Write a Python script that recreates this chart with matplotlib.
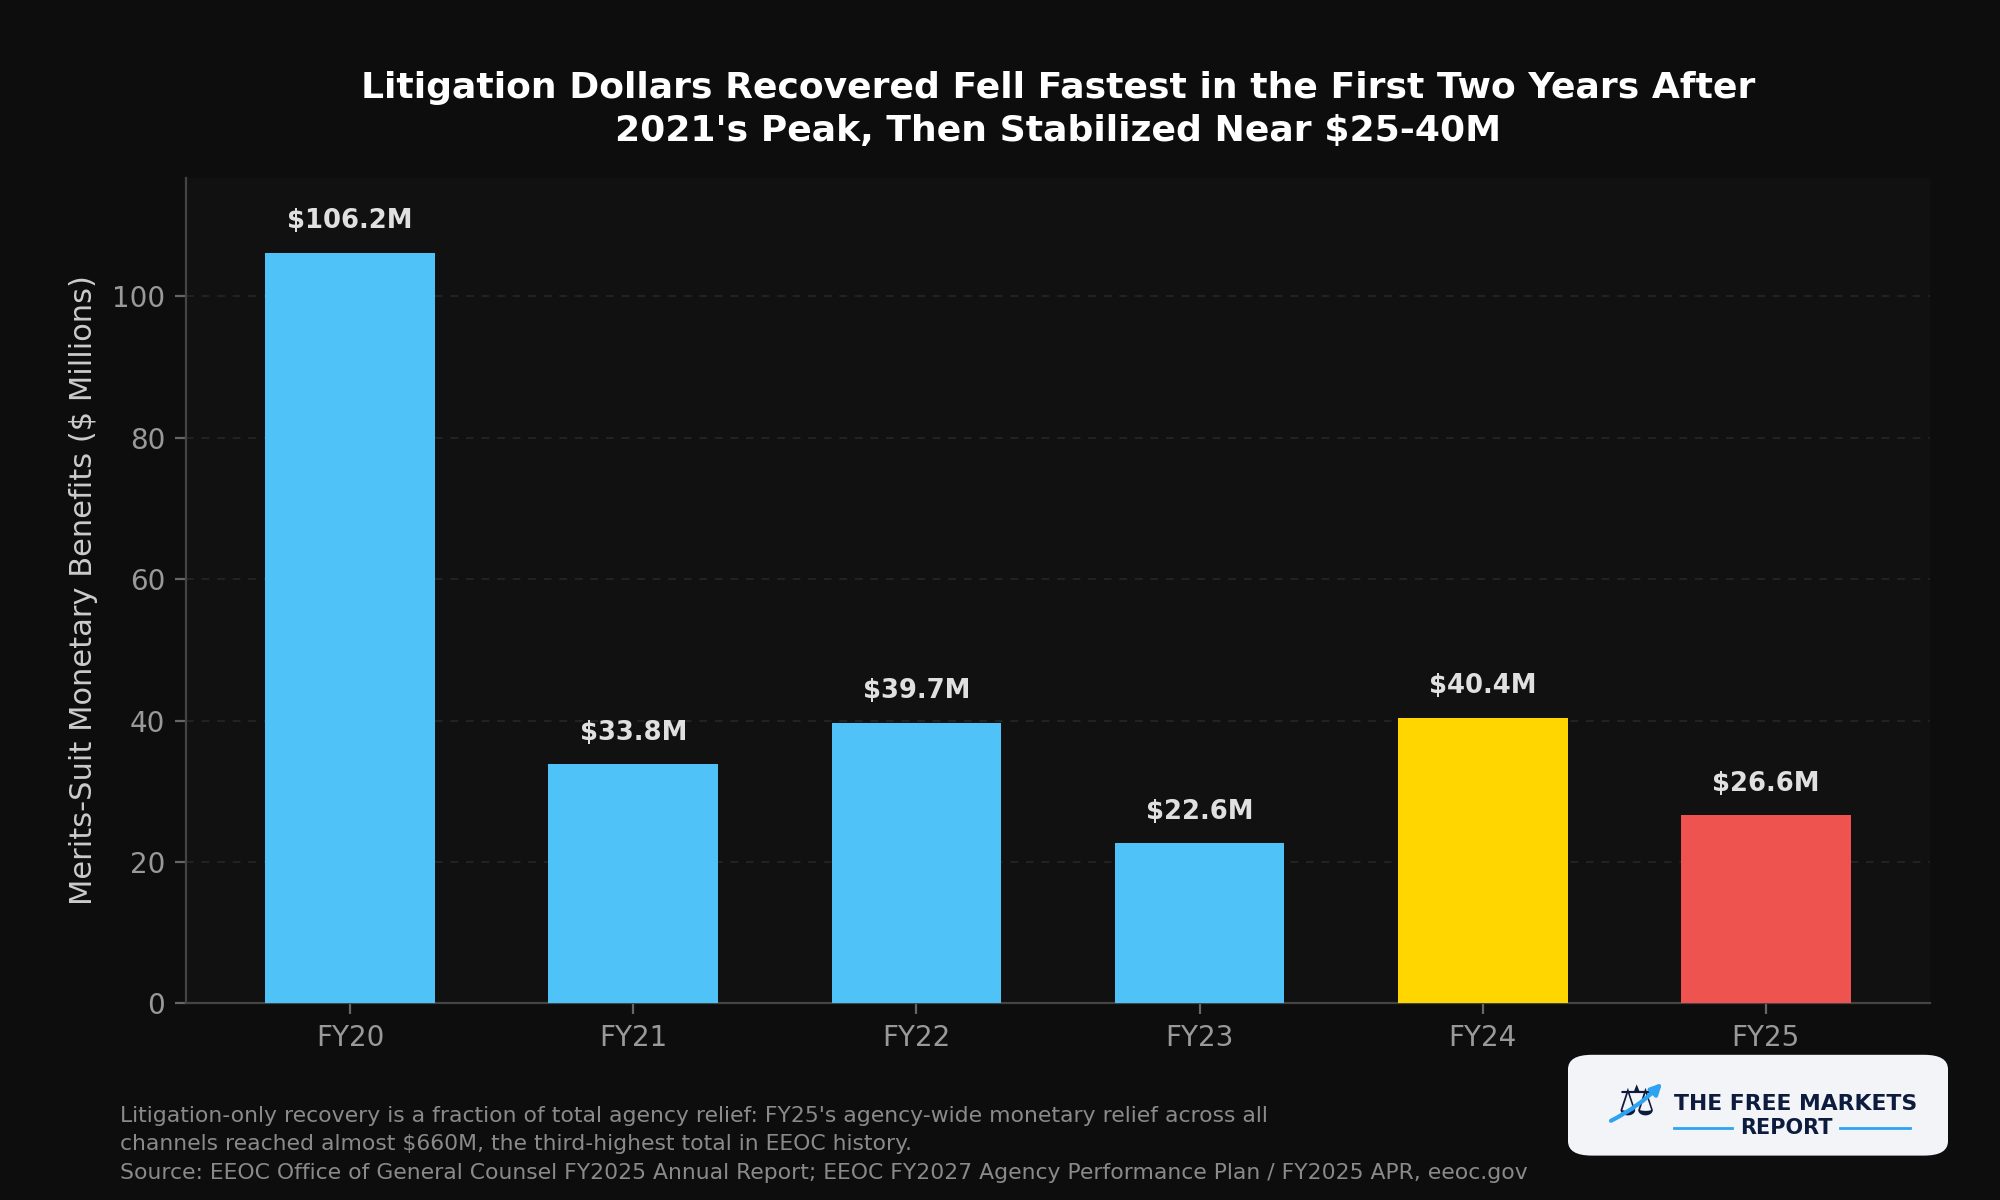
import matplotlib.pyplot as plt
from matplotlib.patches import FancyBboxPatch, FancyArrowPatch

years = ["FY20", "FY21", "FY22", "FY23", "FY24", "FY25"]
recovered = [106.2, 33.8, 39.7, 22.6, 40.4, 26.6]
bar_colors = ["#4FC3F7", "#4FC3F7", "#4FC3F7", "#4FC3F7", "#FFD600", "#EF5350"]

title = ("Litigation Dollars Recovered Fell Fastest in the First Two Years After\n"
         "2021's Peak, Then Stabilized Near $25-40M")
note = ("Litigation-only recovery is a fraction of total agency relief: FY25's agency-wide monetary relief across all\n"
        "channels reached almost $660M, the third-highest total in EEOC history.\n"
        "Source: EEOC Office of General Counsel FY2025 Annual Report; EEOC FY2027 Agency Performance Plan / FY2025 APR, eeoc.gov")

fig = plt.figure(figsize=(10, 6), dpi=200, facecolor="#0d0d0d")
ax = fig.add_axes([0.093, 0.164, 0.872, 0.688])
ax.set_facecolor("#111111")

x = list(range(len(years)))
bars = ax.bar(x, recovered, width=0.6, color=bar_colors, zorder=3)
ax.set_ylim(0, max(recovered) * 1.1)

# value labels over each bar
for b, v in zip(bars, recovered):
    ax.text(b.get_x() + b.get_width() / 2, v + 2.6, f"${v:.1f}M",
            ha="center", va="bottom", fontsize=9.3, fontweight="bold", color="#e0e0e0")

ax.set_xticks(x)
ax.set_xticklabels(years)
ax.set_yticks([0, 20, 40, 60, 80, 100])
ax.tick_params(labelsize=10, length=4)
ax.tick_params(axis="x", colors="#666666", labelcolor="#999999")
ax.tick_params(axis="y", colors="#666666", labelcolor="#999999")
ax.set_ylabel("Merits-Suit Monetary Benefits ($ Millions)", fontsize=11, color="#cccccc", labelpad=5)
ax.grid(axis="y", linestyle=(0, (4, 4)), color="#232323", linewidth=0.7, zorder=0)
for s in ["top", "right"]:
    ax.spines[s].set_visible(False)
for s in ["left", "bottom"]:
    ax.spines[s].set_color("#444444")

ax.set_title(title, fontsize=13, fontweight="bold", color="white", pad=13, linespacing=1.35)

fig.text(0.06, 0.014, note, fontsize=7.9, color="#8a8a8a", ha="left", va="bottom", linespacing=1.55)

# logo badge
logo = FancyBboxPatch((0.784, 0.037), 0.19, 0.084, boxstyle="round,pad=0,rounding_size=0.012",
                      transform=fig.transFigure, facecolor="#f3f4f8", edgecolor="none", zorder=5)
fig.add_artist(logo)
fig.text(0.818, 0.080, "\u2696", fontsize=15, color="#0d1b3e", ha="center", va="center", zorder=6)
fig.text(0.837, 0.080, "THE FREE MARKETS", fontsize=7.9, fontweight="bold", color="#0d1b3e",
         ha="left", va="center", zorder=6)
fig.text(0.893, 0.060, "REPORT", fontsize=7.5, fontweight="bold", color="#0d1b3e",
         ha="center", va="center", zorder=6)
fig.add_artist(plt.Line2D([0.837, 0.866], [0.060, 0.060], transform=fig.transFigure,
                          color="#2ea3f2", linewidth=1, zorder=6))
fig.add_artist(plt.Line2D([0.920, 0.955], [0.060, 0.060], transform=fig.transFigure,
                          color="#2ea3f2", linewidth=1, zorder=6))
arrow = FancyArrowPatch((0.803, 0.064), (0.833, 0.101), transform=fig.transFigure,
                        arrowstyle="-|>", color="#2ea3f2", lw=1.5, mutation_scale=8,
                        connectionstyle="arc3,rad=0.1", zorder=7)
fig.add_artist(arrow)

fig.savefig("out.png", dpi=200, facecolor=fig.get_facecolor())
